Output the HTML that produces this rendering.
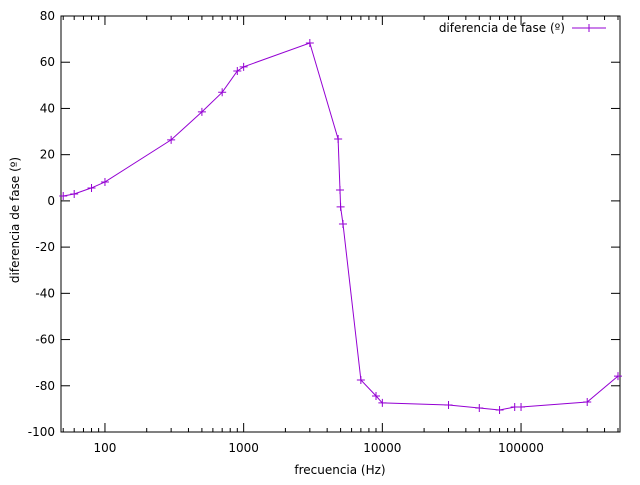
<!DOCTYPE html>
<html><head><meta charset="utf-8"><style>
body{margin:0;background:#fff}
svg text{font-family:"DejaVu Sans","Liberation Sans",sans-serif;font-size:12px;fill:#000}
</style></head><body>
<svg id="chart" width="640" height="480"></svg>
<script>
const freqs=[50,60,80,100,300,500,700,900,1000,3000,4800,4950,5000,5200,7000,9000,10000,30000,50000,70000,90000,100000,300000,500000];
const phases=[2.1,3,5.6,8.2,26.4,38.5,47,56.2,58,68.3,26.8,4.7,-2.6,-10,-77.5,-84.4,-87.4,-88.3,-89.6,-90.5,-89.2,-89.2,-87,-75.8];
const yTicks=[80,60,40,20,0,-20,-40,-60,-80,-100];
const xTicks=[100,1000,10000,100000];
const L=61,R=620,T=16,B=432;
const XMIN=48.2,XMAX=517000,YMIN=-100,YMAX=80;
const NS='http://www.w3.org/2000/svg';
const svg=document.getElementById('chart');
function X(v){return L+(Math.log10(v)-Math.log10(XMIN))/(Math.log10(XMAX)-Math.log10(XMIN))*(R-L);}
function Y(v){return B-(v-YMIN)/(YMAX-YMIN)*(B-T);}
function mk(t,a,p){const e=document.createElementNS(NS,t);for(const k in a)e.setAttribute(k,a[k]);(p||svg).appendChild(e);return e;}
const frame=mk('rect',{x:L,y:T,width:R-L,height:B-T,fill:'none',stroke:'#000','stroke-width':1});


yTicks.forEach(v=>{const y=Y(v);
 mk('line',{x1:L,y1:y,x2:L+9,y2:y,stroke:'#000'});mk('line',{x1:R,y1:y,x2:R-9,y2:y,stroke:'#000'});
 const t=mk('text',{x:L-6,y:y+4,'text-anchor':'end'});t.textContent=v;
 
 });
for(let d=10;d<=1e6;d*=10){for(let m=1;m<10;m++){const v=d*m;if(v<XMIN||v>XMAX)continue;const x=X(v);const len=m===1?9:4;
 mk('line',{x1:x,y1:B,x2:x,y2:B-len,stroke:'#000'});mk('line',{x1:x,y1:T,x2:x,y2:T+len,stroke:'#000'});}}
xTicks.forEach(v=>{const t=mk('text',{x:X(v),y:B+20,'text-anchor':'middle'});t.textContent=v;
 
 });
const xt=mk('text',{x:340,y:474,'text-anchor':'middle'});xt.textContent='frecuencia (Hz)';


const yt=mk('text',{x:19,y:220,'text-anchor':'middle',transform:'rotate(-90 19 220)'});yt.textContent='diferencia de fase (º)';


const pts=freqs.map((f,i)=>X(f).toFixed(1)+','+Y(phases[i]).toFixed(1)).join(' ');
const line=mk('polyline',{points:pts,fill:'none',stroke:'#9400d3','stroke-width':1});


freqs.forEach((f,i)=>{const x=X(f),y=Y(phases[i]);
 const g=mk('path',{d:`M${x-4},${y}H${x+4}M${x},${y-4}V${y+4}`,stroke:'#9400d3','stroke-width':1});
 
 });
const lt=mk('text',{x:565,y:32,'text-anchor':'end'});lt.textContent='diferencia de fase (º)';


const ll=mk('path',{d:'M572,28H606M589,24V32',stroke:'#9400d3','stroke-width':1});


</script>
</body></html>
